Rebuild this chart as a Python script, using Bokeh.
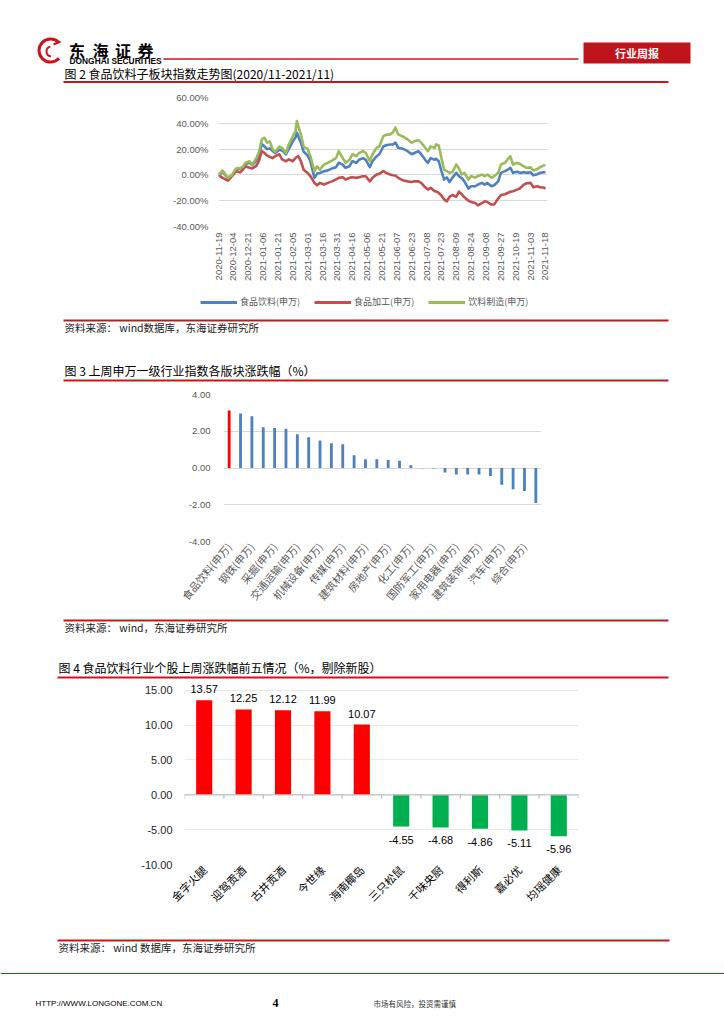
import math
from bokeh.plotting import figure
from bokeh.models import (Range1d, FixedTicker, PrintfTickFormatter, ColumnDataSource,
                          LabelSet, Legend, LegendItem, Span)
from bokeh.core.properties import value
from bokeh.embed import file_html
from bokeh.resources import INLINE

# ---------------- data: Fig.2 sub-sector index trend (%) ----------------
date_ticks = ["2020-11-19", "2020-12-04", "2020-12-21", "2021-01-06", "2021-01-21",
              "2021-02-05", "2021-03-01", "2021-03-16", "2021-03-31", "2021-04-16",
              "2021-05-06", "2021-05-21", "2021-06-07", "2021-06-23", "2021-07-08",
              "2021-07-23", "2021-08-09", "2021-08-24", "2021-09-08", "2021-09-27",
              "2021-10-19", "2021-11-03", "2021-11-18"]
tick_days = [0, 11, 22, 33, 44, 55, 66, 77, 88, 99, 110, 121, 132, 143, 154, 165,
             176, 187, 198, 209, 220, 231, 242]

day_index = [0, 3, 7, 10, 13, 16, 18, 20, 23, 25, 28, 30, 32, 34, 36, 38, 40, 42, 45, 47,
             50, 52, 55, 57, 58, 59, 61, 63, 66, 68, 71, 73, 75, 78, 81, 84, 87, 89, 92, 94,
             97, 99, 102, 104, 107, 109, 112, 114, 117, 119, 122, 124, 127, 129, 131, 133,
             137, 140, 143, 145, 148, 150, 153, 155, 157, 160, 161, 163, 165, 167, 169, 171,
             173, 176, 178, 180, 182, 185, 187, 190, 192, 195, 197, 199, 202, 204, 207, 209,
             212, 214, 216, 218, 221, 223, 226, 228, 231, 233, 236, 238, 241, 242]

food_bev = [0, 2.5, -2.8, -0.5, 4.5, 5.0, 5.5, 8.5, 9.5, 7.5, 11.0, 15.0, 24.0, 22.0, 20.0,
            20.5, 18.6, 17.0, 19.5, 19.0, 16.0, 20.0, 26.0, 29.0, 32.7, 30.0, 25.0, 18.0,
            15.0, 10.6, -2.3, 1.0, 1.5, 2.8, 3.5, 5.0, 6.0, 9.4, 8.0, 5.5, 6.7, 10.6, 9.4,
            11.7, 13.0, 11.7, 6.0, 10.6, 14.5, 16.0, 22.0, 23.0, 23.6, 23.6, 25.0, 21.0,
            20.0, 18.4, 16.0, 17.0, 18.4, 16.0, 11.7, 9.4, 13.0, 11.7, 12.5, 10.6, 2.9,
            -3.6, -2.0, -5.5, -2.3, 1.6, -1.0, -2.5, -5.0, -10.6, -8.8, -8.8, -7.5, -6.2,
            -7.5, -6.2, -8.8, -8.0, -5.0, 1.6, 2.9, 4.0, 5.5, 1.6, 2.5, 1.6, 2.0, 1.6, 2.0,
            -0.3, 0.5, 1.6, 2.1, 2.1]

food_proc = [0, -2.3, -4.4, -1.0, 2.9, 2.0, 4.0, 6.7, 5.5, 5.0, 7.0, 11.0, 18.4, 17.0,
             15.0, 14.0, 13.0, 14.5, 16.0, 12.0, 10.6, 12.0, 10.6, 13.0, 14.0, 14.5, 10.6,
             4.0, 1.5, -1.0, -6.2, -8.0, -6.2, -7.5, -6.2, -5.0, -3.5, -2.3, -1.8, -3.6,
             -2.3, -1.8, -2.3, -1.8, -1.0, -1.0, -5.0, -2.3, 0.3, 0.8, 3.0, 1.6, 0.3, -0.3,
             -0.5, -2.3, -4.4, -5.0, -5.5, -5.0, -5.0, -6.2, -9.6, -11.4, -10.0, -12.7,
             -12.7, -14.0, -16.0, -19.0, -20.5, -17.0, -15.6, -16.9, -13.0, -15.0, -17.4,
             -20.0, -21.0, -21.8, -23.6, -21.8, -20.5, -21.0, -23.0, -23.0, -18.4, -15.6,
             -15.0, -14.0, -13.0, -12.7, -11.4, -10.5, -7.5, -6.5, -6.2, -9.6, -8.8, -9.5,
             -10.0, -10.6]

bev_mfg = [0, 3.4, -2.3, 0, 5.0, 5.5, 6.0, 9.4, 10.6, 8.0, 13.0, 18.0, 27.5, 28.8, 25.0,
           26.0, 20.0, 18.0, 22.0, 21.0, 17.0, 23.6, 30.0, 34.0, 41.8, 38.0, 31.0, 22.0,
           20.0, 14.5, 3.0, 6.7, 4.0, 8.0, 9.4, 11.0, 13.0, 18.4, 13.0, 9.4, 11.7, 16.0,
           14.5, 17.0, 18.4, 17.0, 10.6, 16.0, 21.0, 22.0, 30.0, 31.0, 31.4, 32.7, 36.6,
           31.4, 29.4, 27.5, 25.0, 26.0, 27.0, 25.0, 21.0, 18.4, 22.0, 21.0, 23.6, 22.8,
           13.0, 4.0, 2.9, 1.6, 2.0, 8.0, 5.0, 0.3, 1.5, -3.6, -1.0, -2.0, -1.0, 0.3, -1.0,
           0.3, -2.3, -1.0, 1.6, 8.0, 9.4, 12.0, 14.5, 8.0, 9.4, 8.5, 6.7, 5.5, 5.8, 3.4,
           4.5, 6.0, 7.5, 7.5]

series_names = ["食品饮料(申万)", "食品加工(申万)", "饮料制造(申万)"]

# ---------------- data: Fig.3 SW level-1 industries weekly change (%) ----------------
industries = ["食品饮料", "有色金属", "钢铁", "电气设备", "采掘", "轻工制造", "交通运输",
              "公用事业", "机械设备", "农林牧渔", "传媒", "纺织服装", "建筑材料", "商业贸易",
              "房地产", "电子", "化工", "计算机", "国防军工", "通信", "家用电器", "医药生物",
              "建筑装饰", "休闲服务", "汽车", "非银金融", "综合", "银行"]
industry_chg = [3.13, 2.96, 2.82, 2.22, 2.18, 2.13, 1.84, 1.67, 1.49, 1.35, 1.29, 0.69,
                0.47, 0.47, 0.44, 0.40, 0.15, -0.02, -0.03, -0.25, -0.36, -0.36, -0.36,
                -0.44, -0.91, -1.15, -1.25, -1.91]

# ---------------- data: Fig.4 top/bottom five stocks (%) ----------------
stocks = ["金字火腿", "迎驾贡酒", "古井贡酒", "今世缘", "海南椰岛",
          "三只松鼠", "千味央厨", "得利斯", "嘉必优", "均瑶健康"]
stock_chg = [13.57, 12.25, 12.12, 11.99, 10.07, -4.55, -4.68, -4.86, -5.11, -5.96]

# ---------------- styling ----------------
W = 724
CJK = "Noto Sans CJK SC"
LAT = "Liberation Sans"
RED = "#C8161E"
GREY_TXT = "#595959"
colors1 = ["#4F81BD", "#C0504D", "#9BBB59"]


def deco(top, h):
    p = figure(width=W, height=h, x_range=Range1d(0, W), y_range=Range1d(top + h, top),
               output_backend="svg", toolbar_location=None,
               x_axis_location=None, y_axis_location=None, min_border=0)
    p.grid.visible = False
    p.outline_line_color = None
    return p


def hline(p, x0, x1, y, w=2.0, color=RED):
    p.segment(x0=[x0], y0=[y], x1=[x1], y1=[y], line_color=color, line_width=w)


def txt(p, x, y, s, size, font=CJK, color="#000000", align="left", style="normal"):
    p.text(x=[x], y=[y], text=[s], text_font=value(font), text_font_size=size,
           text_color=color, text_align=align, text_baseline="middle",
           text_font_style=style)


def style_chart(p):
    p.outline_line_color = None
    p.xgrid.visible = False
    for ax in (p.xaxis[0], p.yaxis[0]):
        ax.axis_line_color = None
        ax.major_tick_line_color = None
        ax.minor_tick_line_color = None
        ax.major_tick_out = 0
        ax.major_tick_in = 0


# ---------------- header + title of Fig.2 (page y 0..90) ----------------
pa = deco(0, 90)
pa.arc(x=[50], y=[50], radius=11.5, start_angle=0.75, end_angle=5.55,
       direction="anticlock", line_color=RED, line_width=3)
pa.arc(x=[51], y=[51], radius=5, start_angle=1.8, end_angle=4.6,
       direction="anticlock", line_color=RED, line_width=2)
pa.segment(x0=[53], y0=[44], x1=[60], y1=[41], line_color=RED, line_width=2)
for cx, ch in zip([76.5, 100, 122.5, 145], ["东", "海", "证", "券"]):
    txt(pa, cx, 49.5, ch, "16px", align="center", style="bold")
txt(pa, 69, 60, "DONGHAI SECURITIES", "8.4px", font=LAT, style="bold")
hline(pa, 163, 578, 58.5, w=1.5)
pa.quad(left=[583], right=[690], top=[42], bottom=[63], fill_color="#C0141C", line_color=None)
txt(pa, 636.5, 52.5, "行业周报", "11px", color="#FFFFFF", align="center", style="bold")
txt(pa, 64, 73, "图 2  食品饮料子板块指数走势图(2020/11-2021/11)", "12px")
hline(pa, 63, 668, 81.5)

# ---------------- Fig.2 line chart (page y 90..292) ----------------
p1 = figure(width=W, height=202, x_range=Range1d(0, 243.5), y_range=Range1d(-40, 60),
            output_backend="svg", toolbar_location=None,
            min_border_left=218, min_border_right=177, min_border_top=7, min_border_bottom=66)
style_chart(p1)
p1.ygrid.grid_line_color = "#D9D9D9"
p1.yaxis.ticker = FixedTicker(ticks=[-40, -20, 0, 20, 40, 60])
p1.yaxis.formatter = PrintfTickFormatter(format="%.2f%%")
p1.yaxis.major_label_text_font = LAT
p1.yaxis.major_label_text_font_size = "9.5px"
p1.yaxis.major_label_text_color = GREY_TXT
p1.yaxis.major_label_standoff = 10
p1.xaxis.ticker = FixedTicker(ticks=tick_days)
p1.xaxis.major_label_overrides = dict(zip(tick_days, date_ticks))
p1.xaxis.major_label_orientation = math.pi / 2
p1.xaxis.major_label_text_font = LAT
p1.xaxis.major_label_text_font_size = "9.5px"
p1.xaxis.major_label_text_color = GREY_TXT
p1.xaxis.major_label_standoff = 6
for ys, c in zip([food_bev, food_proc, bev_mfg], colors1):
    p1.line(day_index, ys, line_color=c, line_width=2.6, line_join="round")

# ---------------- legend strip of Fig.2 (page y 292..315) ----------------
pl = deco(292, 23)
nan = float("nan")
keys = [pl.line(x=[nan], y=[nan], line_color=c, line_width=3) for c in colors1]
legend = Legend(items=[LegendItem(label=n, renderers=[r]) for n, r in zip(series_names, keys)],
                orientation="horizontal", location=(200, 7), glyph_width=37, glyph_height=12,
                label_standoff=3, spacing=14, padding=0, margin=0,
                label_text_font=CJK, label_text_font_size="9px", label_text_color=GREY_TXT,
                border_line_color=None, background_fill_alpha=0)
pl.add_layout(legend, "center")

# ---------------- source + title of Fig.3 (page y 315..385) ----------------
pc = deco(315, 70)
hline(pc, 63, 668, 320)
txt(pc, 64, 327, "资料来源： wind数据库，东海证券研究所", "10.5px", color="#222222")
txt(pc, 64, 370, "图 3  上周申万一级行业指数各版块涨跌幅（%）", "12px")
hline(pc, 63, 668, 380)

# ---------------- Fig.3 bar chart (page y 385..615) ----------------
x2 = list(range(len(industries)))
colors2 = ["#FF0000" if i == 0 else "#4F81BD" for i in x2]
p2 = figure(width=W, height=230, x_range=Range1d(-0.5, len(industries) - 0.5),
            y_range=Range1d(-4, 4), output_backend="svg", toolbar_location=None,
            min_border_left=223, min_border_right=183, min_border_top=9, min_border_bottom=74)
style_chart(p2)
p2.ygrid.grid_line_color = "#D9D9D9"
p2.vbar(x=x2, top=industry_chg, width=0.25, fill_color=colors2, line_color=None)
p2.yaxis.ticker = FixedTicker(ticks=[-4, -2, 0, 2, 4])
p2.yaxis.formatter = PrintfTickFormatter(format="%.2f")
p2.yaxis.major_label_text_font = LAT
p2.yaxis.major_label_text_font_size = "9.5px"
p2.yaxis.major_label_text_color = GREY_TXT
p2.yaxis.major_label_standoff = 13
shown = x2[::2]
p2.xaxis.ticker = FixedTicker(ticks=shown)
p2.xaxis.major_label_overrides = {i: industries[i] + "(申万)" for i in shown}
p2.xaxis.major_label_orientation = 0.87
p2.xaxis.major_label_text_font = CJK
p2.xaxis.major_label_text_font_size = "10.5px"
p2.xaxis.major_label_text_color = GREY_TXT
p2.xaxis.major_label_standoff = 3

# ---------------- source + title of Fig.4 (page y 615..680) ----------------
pe = deco(615, 65)
hline(pe, 63, 668, 620)
txt(pe, 64, 626.5, "资料来源： wind，东海证券研究所", "10.5px", color="#222222")
txt(pe, 58, 667, "图 4  食品饮料行业个股上周涨跌幅前五情况（%，剔除新股）", "12px")
hline(pe, 57, 668, 677)

# ---------------- Fig.4 bar chart (page y 680..935) ----------------
x3 = list(range(len(stocks)))
colors3 = ["#FF0000" if v > 0 else "#00B050" for v in stock_chg]
p3 = figure(width=W, height=255, x_range=Range1d(-0.5, len(stocks) - 0.5),
            y_range=Range1d(-10, 16.4), output_backend="svg", toolbar_location=None,
            min_border_left=184, min_border_right=146, min_border_top=0, min_border_bottom=71)
style_chart(p3)
p3.ygrid.grid_line_color = "#ECE9DF"
p3.ygrid.grid_line_width = 1.2
p3.vbar(x=x3, top=stock_chg, width=0.41, fill_color=colors3, line_color=None)
p3.add_layout(Span(location=0, dimension="width", line_color="#BFBFBF", line_width=1.2))
bounds = [i - 0.5 for i in range(len(stocks) + 1)]
p3.segment(x0=bounds, y0=[0] * len(bounds), x1=bounds, y1=[-0.55] * len(bounds),
           line_color="#BFBFBF", line_width=1.2)
p3.yaxis.ticker = FixedTicker(ticks=[-10, -5, 0, 5, 10, 15])
p3.yaxis.formatter = PrintfTickFormatter(format="%.2f")
p3.yaxis.major_label_text_font = LAT
p3.yaxis.major_label_text_font_size = "11px"
p3.yaxis.major_label_text_color = "#262626"
p3.yaxis.major_label_standoff = 12
p3.xaxis.ticker = FixedTicker(ticks=x3)
p3.xaxis.major_label_overrides = dict(zip(x3, stocks))
p3.xaxis.major_label_orientation = math.pi / 4
p3.xaxis.major_label_text_font = CJK
p3.xaxis.major_label_text_font_size = "11px"
p3.xaxis.major_label_text_color = "#000000"
p3.xaxis.major_label_standoff = 3

pos = [(i, v) for i, v in zip(x3, stock_chg) if v > 0]
neg = [(i, v) for i, v in zip(x3, stock_chg) if v <= 0]
src_pos = ColumnDataSource(dict(x=[a for a, _ in pos], y=[b for _, b in pos],
                                t=["%.2f" % b for _, b in pos]))
src_neg = ColumnDataSource(dict(x=[a for a, _ in neg], y=[b for _, b in neg],
                                t=["%.2f" % b for _, b in neg]))
p3.add_layout(LabelSet(x="x", y="y", text="t", source=src_pos, text_align="center",
                       text_baseline="alphabetic", y_offset=7, text_font=value(LAT),
                       text_font_size="11px", text_color="#000000"))
p3.add_layout(LabelSet(x="x", y="y", text="t", source=src_neg, text_align="center",
                       text_baseline="top", y_offset=-9, text_font=value(LAT),
                       text_font_size="11px", text_color="#000000"))

# ---------------- source + footer (page y 935..1024) ----------------
pg = deco(935, 89)
hline(pg, 57, 669, 940)
txt(pg, 58, 946.5, "资料来源： wind 数据库，东海证券研究所", "10.5px", color="#222222")
hline(pg, 0, W, 973, w=1.2)
txt(pg, 35, 1003, "HTTP://WWW.LONGONE.COM.CN", "8px", font=LAT)
txt(pg, 275, 1002.5, "4", "12px", font="Liberation Serif", align="center", style="bold")
txt(pg, 373, 1003, "市场有风险，投资需谨慎", "7.5px", color="#333333")

# separate roots stacked on the page: each figure keeps its own frame position
open("out.html", "w").write(file_html([pa, p1, pl, pc, p2, pe, p3, pg], INLINE))
